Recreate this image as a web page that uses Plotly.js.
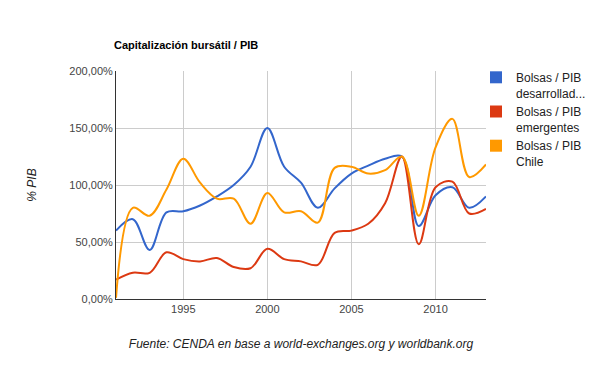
<!DOCTYPE html>
<html><head><meta charset="utf-8">
<script src="https://cdn.plot.ly/plotly-3.0.1.min.js"></script>
<style>body{margin:0;background:#fff}#c{width:600px;height:371px}</style>
</head><body><div id="c"></div>
<script>
const years = [1991,1992,1993,1994,1995,1996,1997,1998,1999,2000,2001,2002,2003,2004,2005,2006,2007,2008,2009,2010,2011,2012,2013];
const desarrollados = [60,70,43,76,77,82,90,100,116,150,116,102,80,97,110,117,123,125,64,91,98,80,90];
const emergentes = [17,23,23,41,35,33,36,28,27,44,35,33,30,58,60,66,84,125,48,98,103,75,79];
const chile = [1,80,73,96,123,102,88,88,66,93,76,77,67,115,116,110,113,125,73,133,158,107,118];
const yTickVals = [0, 50, 100, 150, 200];
const yTickText = ["0,00%", "50,00%", "100,00%", "150,00%", "200,00%"];
const xTickVals = [1995, 2000, 2005, 2010];
const names = ["Bolsas / PIB<br>desarrollad...", "Bolsas / PIB<br>emergentes", "Bolsas / PIB<br>Chile"];
const colors = ["#3366cc", "#dc3912", "#ff9900"];
const series = [desarrollados, emergentes, chile];
const FONT = "Arial, 'Liberation Sans', sans-serif";

const traces = [];
series.forEach((s, i) => {
  traces.push({x: years, y: s, type: 'scatter', mode: 'lines', line: {color: colors[i], width: 2, shape: 'spline', smoothing: 1}, showlegend: false, hoverinfo: 'skip'});
});
series.forEach((s, i) => {
  traces.push({x: [null], y: [null], type: 'scatter', mode: 'markers', name: names[i], marker: {symbol: 'square', size: 12, color: colors[i]}, showlegend: true});
});

const L = 116, R = 486, T = 71, B = 299;
const layout = {
  width: 600, height: 371,
  margin: {l: L, r: 600 - R, t: T, b: 371 - B, autoexpand: false},
  paper_bgcolor: '#fff', plot_bgcolor: '#fff',
  font: {family: FONT, size: 11, color: '#444'},
  title: {text: '<b>Capitalización bursátil / PIB</b>', x: 114/600, xanchor: 'left', y: 1 - 45/371, yanchor: 'middle', font: {family: FONT, size: 11, color: '#000'}},
  xaxis: {range: [1991, 2013], tickvals: xTickVals, showgrid: true, gridcolor: '#cccccc', gridwidth: 1, zeroline: false, showline: true, linecolor: '#333', linewidth: 1, ticks: '', tickfont: {size: 11, color: '#444'},
    title: {text: '<i>Fuente: CENDA en base a world-exchanges.org y worldbank.org</i>', font: {size: 12, color: '#222'}, standoff: 25}},
  yaxis: {range: [0, 200], tickvals: yTickVals, ticktext: yTickText, showgrid: true, gridcolor: '#cccccc', zeroline: false, showline: true, linecolor: '#333', linewidth: 1, ticks: '', tickfont: {size: 11, color: '#444'},
    title: {text: '<i>% PIB</i>', font: {size: 12, color: '#222'}, standoff: 30}},
  legend: {x: (476 - L)/(R - L), xanchor: 'left', y: (B - 63)/(B - T), yanchor: 'top', valign: 'top', font: {size: 12, color: '#222'}, bgcolor: 'rgba(0,0,0,0)', itemwidth: 30, tracegroupgap: 2}
};
Plotly.newPlot('c', traces, layout, {displayModeBar: false, staticPlot: true});
</script></body></html>
